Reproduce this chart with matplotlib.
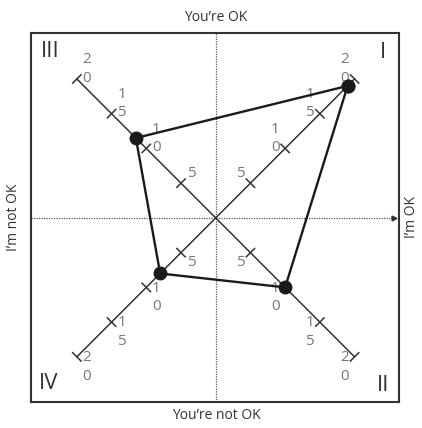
import numpy as np
import matplotlib
matplotlib.use('Agg')
import matplotlib.pyplot as plt

plt.rcParams['font.family'] = ['Open Sans', 'DejaVu Sans']

# scores (0..20)
quadrants = ['I', 'II', 'III', 'IV']
scores = [19, 10, 11.5, 8]
axis_ticks = [5, 10, 15, 20]
axis_max = 20

top_label = 'You\u2019re OK'
bottom_label = 'You\u2019re not OK'
left_label = 'I\u2019m not OK'
right_label = 'I\u2019m OK'

# which way each quadrant's axis points
direction = {'I': (1, 1), 'II': (1, -1), 'III': (-1, 1), 'IV': (-1, -1)}
polygon_order = ['I', 'II', 'IV', 'III', 'I']


def main():
    fig = plt.figure(figsize=(4.22, 4.28), dpi=100)
    ax = fig.add_axes([0.0735, 0.0607, 0.872, 0.862])
    xmin, xmax = -26.6, 26.4
    ymin, ymax = -26.5, 26.6
    ax.set_xlim(xmin, xmax)
    ax.set_ylim(ymin, ymax)
    ax.set_xticks([])
    ax.set_yticks([])
    for sp in ax.spines.values():
        sp.set_linewidth(1.5)
        sp.set_color('#333333')

    # dotted cross through the middle
    ax.plot([0, 0], [ymin, ymax], color='#555555', lw=0.9, ls=(0, (1, 1)), zorder=1)
    ax.plot([xmin, xmax - 0.9], [0, 0], color='#555555', lw=0.9, ls=(0, (1, 1)), zorder=1)
    ax.plot([xmax - 0.75], [0], marker='>', ms=3.5, color='#333333', zorder=1)

    # the four diagonal scales
    for q in quadrants:
        dx, dy = direction[q]
        ax.plot([0, dx * axis_max], [0, dy * axis_max], color='#333333', lw=1.1, zorder=2)
        for t in axis_ticks:
            cx, cy = dx * t, dy * t
            px, py = -dy * 0.6, dx * 0.6
            ax.plot([cx - px, cx + px], [cy - py, cy + py], color='#333333', lw=1.1, zorder=2)
            ax.annotate('\n'.join(str(t)), (cx, cy), xytext=(-dx * 10, dy * 10),
                        textcoords='offset pixels', ha='center', va='center',
                        fontsize=11, color='#777777', linespacing=1.3, zorder=3)

    # the profile polygon
    vals = dict(zip(quadrants, scores))
    xs = [direction[q][0] * vals[q] for q in polygon_order]
    ys = [direction[q][1] * vals[q] for q in polygon_order]
    ax.plot(xs, ys, color='#1a1a1a', lw=1.7, marker='o', ms=9, zorder=5)

    # quadrant numerals
    ax.text(0.027, 0.951, 'III', transform=ax.transAxes, ha='left', va='center', fontsize=16, color='#333333')
    ax.text(0.965, 0.948, 'I', transform=ax.transAxes, ha='right', va='center', fontsize=16, color='#333333')
    ax.text(0.022, 0.049, 'IV', transform=ax.transAxes, ha='left', va='center', fontsize=16, color='#333333')
    ax.text(0.973, 0.046, 'II', transform=ax.transAxes, ha='right', va='center', fontsize=16, color='#333333')

    # outside labels
    fig.text(0.512, 0.960, top_label, ha='center', va='center', fontsize=10, color='#333333')
    fig.text(0.512, 0.030, bottom_label, ha='center', va='center', fontsize=10, color='#333333')
    fig.text(0.033, 0.493, left_label, ha='center', va='center', rotation=90, fontsize=10, color='#333333')
    fig.text(0.974, 0.493, right_label, ha='center', va='center', rotation=90, fontsize=10, color='#333333')

    fig.savefig('out.png', dpi=100)


if __name__ == '__main__':
    main()
